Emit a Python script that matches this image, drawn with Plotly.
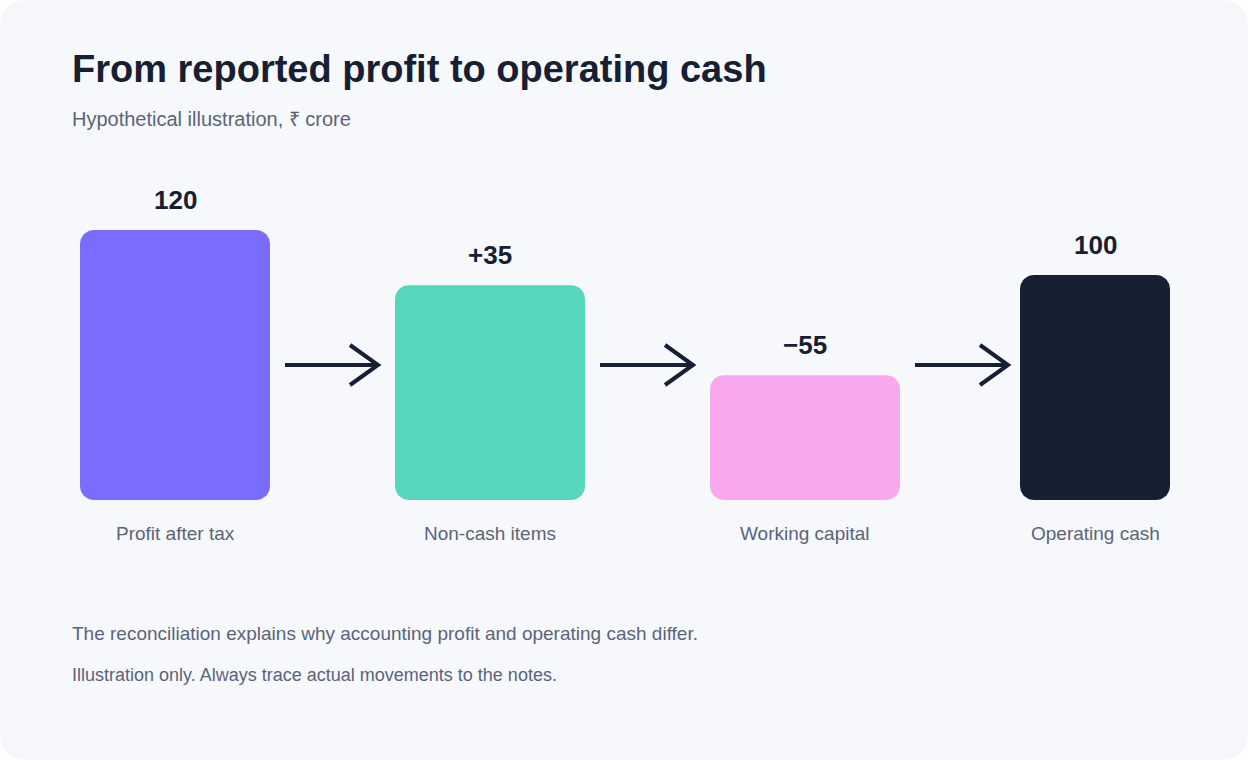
"""Profit-to-cash reconciliation: rounded step bars joined by arrows."""
import numpy as np
import plotly.graph_objects as go

# --- data ---
CATEGORIES   = ["Profit after tax", "Non-cash items", "Working capital", "Operating cash"]
VALUES       = [120, 35, -55, 100]
DRAWN_SIZE   = [120, 95.5, 55.5, 100]   # bar heights as drawn in the picture (not to scale)
COLORS       = ["#7B6CFF", "#55D6BD", "#F9A8F0", "#172033"]

TITLE    = "From reported profit to operating cash"
SUBTITLE = "Hypothetical illustration, ₹ crore"
NOTES    = [
    "The reconciliation explains why accounting profit and operating cash differ.",
    "Illustration only. Always trace actual movements to the notes.",
]

# --- layout constants (pixels) ---
W, H       = 1248, 760
BASE_PX    = 500
PX_PER_U   = 2.25
CENTERS    = [175, 490, 805, 1095]
WIDTHS     = [190, 190, 190, 150]
RADIUS_PX  = 14
LEFT_PX    = 70
INK        = "#172033"
MUTED      = "#5B6478"
CARD       = "#F6F8FC"
FONT       = "Liberation Sans, Arial, sans-serif"


def fmt(v, i):
    if i in (0, len(VALUES) - 1):
        return f"{v}"
    return f"+{v}" if v > 0 else f"\u2212{abs(v)}"


def py(px):
    """pixel row -> y data value"""
    return (BASE_PX - px) / PX_PER_U


def rounded_rect(cx, w, h):
    """outline of a rounded rectangle in data units, bottom at y=0"""
    rx, ry = RADIUS_PX, RADIUS_PX / PX_PER_U
    x0, x1, y0, y1 = cx - w / 2, cx + w / 2, 0, h
    corners = [(x1 - rx, y1 - ry, 0), (x0 + rx, y1 - ry, 90),
               (x0 + rx, y0 + ry, 180), (x1 - rx, y0 + ry, 270)]
    xs, ys = [], []
    for ccx, ccy, start in corners:
        t = np.radians(np.linspace(start, start + 90, 12))
        xs.extend(ccx + rx * np.cos(t))
        ys.extend(ccy + ry * np.sin(t))
    xs.append(xs[0])
    ys.append(ys[0])
    return xs, ys


fig = go.Figure()

for c, w, h, col in zip(CENTERS, WIDTHS, DRAWN_SIZE, COLORS):
    xs, ys = rounded_rect(c, w, h)
    fig.add_trace(go.Scatter(x=xs, y=ys, mode="lines", fill="toself", fillcolor=col,
                             line=dict(width=0, color=col), hoverinfo="skip"))

annotations = []
for i, (c, h, v, cat) in enumerate(zip(CENTERS, DRAWN_SIZE, VALUES, CATEGORIES)):
    annotations.append(dict(x=c, y=h, xref="x", yref="y", text=f"<b>{fmt(v, i)}</b>",
                            showarrow=False, yanchor="bottom", yshift=13,
                            font=dict(size=26, color=INK, family=FONT)))
    annotations.append(dict(x=c, y=0, xref="x", yref="y", text=cat,
                            showarrow=False, yanchor="top", yshift=-21,
                            font=dict(size=19, color=MUTED, family=FONT)))

annotations.append(dict(x=LEFT_PX / W, y=1 - 69 / H, xref="paper", yref="paper", xanchor="left",
                        yanchor="middle", showarrow=False, text=f"<b>{TITLE}</b>",
                        font=dict(size=38, color=INK, family=FONT)))
annotations.append(dict(x=LEFT_PX / W, y=1 - 119 / H, xref="paper", yref="paper", xanchor="left",
                        yanchor="middle", showarrow=False, text=SUBTITLE,
                        font=dict(size=20, color=MUTED, family=FONT)))
for k, (note, size) in enumerate(zip(NOTES, [19, 18])):
    annotations.append(dict(x=LEFT_PX / W, y=1 - (633 + 42 * k) / H, xref="paper", yref="paper",
                            xanchor="left", yanchor="middle", showarrow=False, text=note,
                            font=dict(size=size, color=MUTED, family=FONT)))

# card background with rounded corners (paper coords)
rx, ry = 28 / W, 28 / H
card = (f"M {rx},0 L {1 - rx},0 Q 1,0 1,{ry} L 1,{1 - ry} Q 1,1 {1 - rx},1 "
        f"L {rx},1 Q 0,1 0,{1 - ry} L 0,{ry} Q 0,0 {rx},0 Z")
shapes = [dict(type="path", path=card, xref="paper", yref="paper",
               fillcolor=CARD, line=dict(width=0), layer="below")]

# arrows between bars
ay = py(365)
for i in range(len(CENTERS) - 1):
    x0 = CENTERS[i] + WIDTHS[i] / 2 + 15
    x1 = x0 + 93
    shapes.append(dict(type="line", x0=x0, x1=x1 - 2, y0=ay, y1=ay, xref="x", yref="y",
                       line=dict(color=INK, width=4)))
    shapes.append(dict(type="path", xref="x", yref="y",
                       path=f"M {x1 - 28},{ay + 20 / PX_PER_U} L {x1},{ay} L {x1 - 28},{ay - 20 / PX_PER_U}",
                       line=dict(color=INK, width=4)))

fig.update_layout(
    width=W, height=H,
    margin=dict(l=0, r=0, t=0, b=0),
    paper_bgcolor="white", plot_bgcolor="rgba(0,0,0,0)",
    showlegend=False,
    xaxis=dict(range=[0, W], visible=False, fixedrange=True),
    yaxis=dict(range=[py(H), py(0)], visible=False, fixedrange=True),
    annotations=annotations, shapes=shapes,
)

fig.write_html("out.html", config={"displayModeBar": False},
               post_script="document.body.style.margin='0';")
